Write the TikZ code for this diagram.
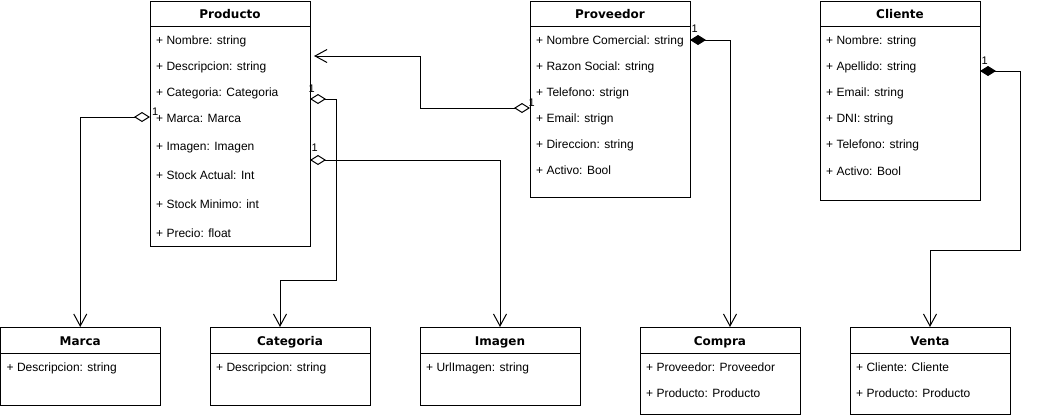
\documentclass[tikz,border=0pt]{standalone}
\usepackage{fontspec}
\setmainfont{Liberation Sans}
\newfontfamily\titlefont{DejaVu Sans}
\usetikzlibrary{arrows.meta}
\begin{document}
\begin{tikzpicture}[x=1pt,y=-1pt,
  cls/.style={draw, line width=1pt, anchor=north west, inner sep=0pt, outer sep=0pt},
  ttl/.style={anchor=base, inner sep=0pt, font=\titlefont\fontsize{12}{14}\selectfont\bfseries},
  attr/.style={anchor=base west, inner sep=0pt, font=\fontsize{12}{14}\selectfont},
  lbl/.style={anchor=base west, inner sep=0pt, font=\fontsize{11}{13}\selectfont},
  sepline/.style={line width=1pt},
  conn/.style={line width=1pt},
  agg/.style={conn, {Diamond[open,length=16pt,width=10pt]}-{Straight Barb[length=12pt,width=13pt]}},
  comp/.style={conn, {Diamond[length=16pt,width=10pt]}-{Straight Barb[length=12pt,width=13pt]}},
]
\useasboundingbox (0,0) rectangle (1038,416);

% ---------- Producto ----------
\node[cls, minimum width=160pt, minimum height=245pt] (producto) at (150,1) {};
\draw[sepline] ([yshift=-25pt]producto.north west) -- ([yshift=-25pt]producto.north east);
\node[ttl] (productoT) at (230,18.5) {Producto};
\foreach \t/\y [count=\i] in {+ Nombre: string/44.5, + Descripcion: string/70, + Categoria: Categoria/96, + Marca: Marca/122.5, + Imagen: Imagen/150, + Stock Actual: Int/179.5, + Stock Minimo: int/208.5, + Precio: float/237.5}
  \node[attr] (p\i) at (156,\y) {\t};

% ---------- Proveedor ----------
\node[cls, minimum width=160pt, minimum height=196pt] (proveedor) at (530,1) {};
\draw[sepline] ([yshift=-25pt]proveedor.north west) -- ([yshift=-25pt]proveedor.north east);
\node[ttl] (proveedorT) at (610,18.5) {Proveedor};
\foreach \t/\y [count=\i] in {+ Nombre Comercial: string/44, + Razon Social: string/70, + Telefono: strign/96, + Email: strign/122, + Direccion: string/148.5, + Activo: Bool/174.5}
  \node[attr] (v\i) at (536,\y) {\t};

% ---------- Cliente ----------
\node[cls, minimum width=160pt, minimum height=199pt] (cliente) at (820,1) {};
\draw[sepline] ([yshift=-25pt]cliente.north west) -- ([yshift=-25pt]cliente.north east);
\node[ttl] (clienteT) at (900,18.5) {Cliente};
\foreach \t/\y [count=\i] in {+ Nombre: string/44.5, + Apellido: string/70, + Email: string/96, + DNI: string/122, + Telefono: string/148.5, + Activo: Bool/175.5}
  \node[attr] (c\i) at (826,\y) {\t};

% ---------- Marca ----------
\node[cls, minimum width=159.5pt, minimum height=78pt] (marca) at (0.5,327) {};
\draw[sepline] ([yshift=-26pt]marca.north west) -- ([yshift=-26pt]marca.north east);
\node[ttl] (marcaT) at (80.25,345) {Marca};
\node[attr] (m1) at (6.5,371) {+ Descripcion: string};

% ---------- Categoria ----------
\node[cls, minimum width=160pt, minimum height=78pt] (categoria) at (210,327) {};
\draw[sepline] ([yshift=-26pt]categoria.north west) -- ([yshift=-26pt]categoria.north east);
\node[ttl] (categoriaT) at (290,345) {Categoria};
\node[attr] (k1) at (216,371) {+ Descripcion: string};

% ---------- Imagen ----------
\node[cls, minimum width=160pt, minimum height=78pt] (imagen) at (420,327) {};
\draw[sepline] ([yshift=-26pt]imagen.north west) -- ([yshift=-26pt]imagen.north east);
\node[ttl] (imagenT) at (500,345) {Imagen};
\node[attr] (i1) at (426,371) {+ UrlImagen: string};

% ---------- Compra ----------
\node[cls, minimum width=160pt, minimum height=87pt] (compra) at (640,327) {};
\draw[sepline] ([yshift=-26pt]compra.north west) -- ([yshift=-26pt]compra.north east);
\node[ttl] (compraT) at (720,345) {Compra};
\node[attr] (o1) at (646,371) {+ Proveedor: Proveedor};
\node[attr] (o2) at (646,397.5) {+ Producto: Producto};

% ---------- Venta ----------
\node[cls, minimum width=160pt, minimum height=87pt] (venta) at (850,327) {};
\draw[sepline] ([yshift=-26pt]venta.north west) -- ([yshift=-26pt]venta.north east);
\node[ttl] (ventaT) at (930,345) {Venta};
\node[attr] (e1) at (856,371) {+ Cliente: Cliente};
\node[attr] (e2) at (856,397.5) {+ Producto: Producto};

% ---------- Connectors ----------
\draw[agg] ([yshift=-116pt]producto.north west) node[lbl, xshift=1.5pt, yshift=2pt]{1}
  -| (marca.north);
\draw[agg] ([yshift=-98pt]producto.north east) node[lbl, xshift=-2pt, yshift=7pt]{1}
  -| (336,280) -| ([xshift=-10pt]categoria.north);
\draw[agg] ([yshift=-159pt]producto.north east) node[lbl, xshift=1pt, yshift=9pt]{1}
  -| (imagen.north);
\draw[agg, shorten >=4pt] ([yshift=-107pt]proveedor.north west) node[lbl, xshift=-2pt, yshift=2pt]{1}
  -| (420,56) -- ([yshift=-55pt]producto.north east);
\draw[comp] ([yshift=-39pt]proveedor.north east) node[lbl, xshift=1pt, yshift=8pt]{1}
  -| ([xshift=10pt]compra.north);
\draw[comp] ([yshift=-70pt]cliente.north east) node[lbl, xshift=1pt, yshift=7pt]{1}
  -| (1020,250) -| (venta.north);
\end{tikzpicture}
\end{document}
